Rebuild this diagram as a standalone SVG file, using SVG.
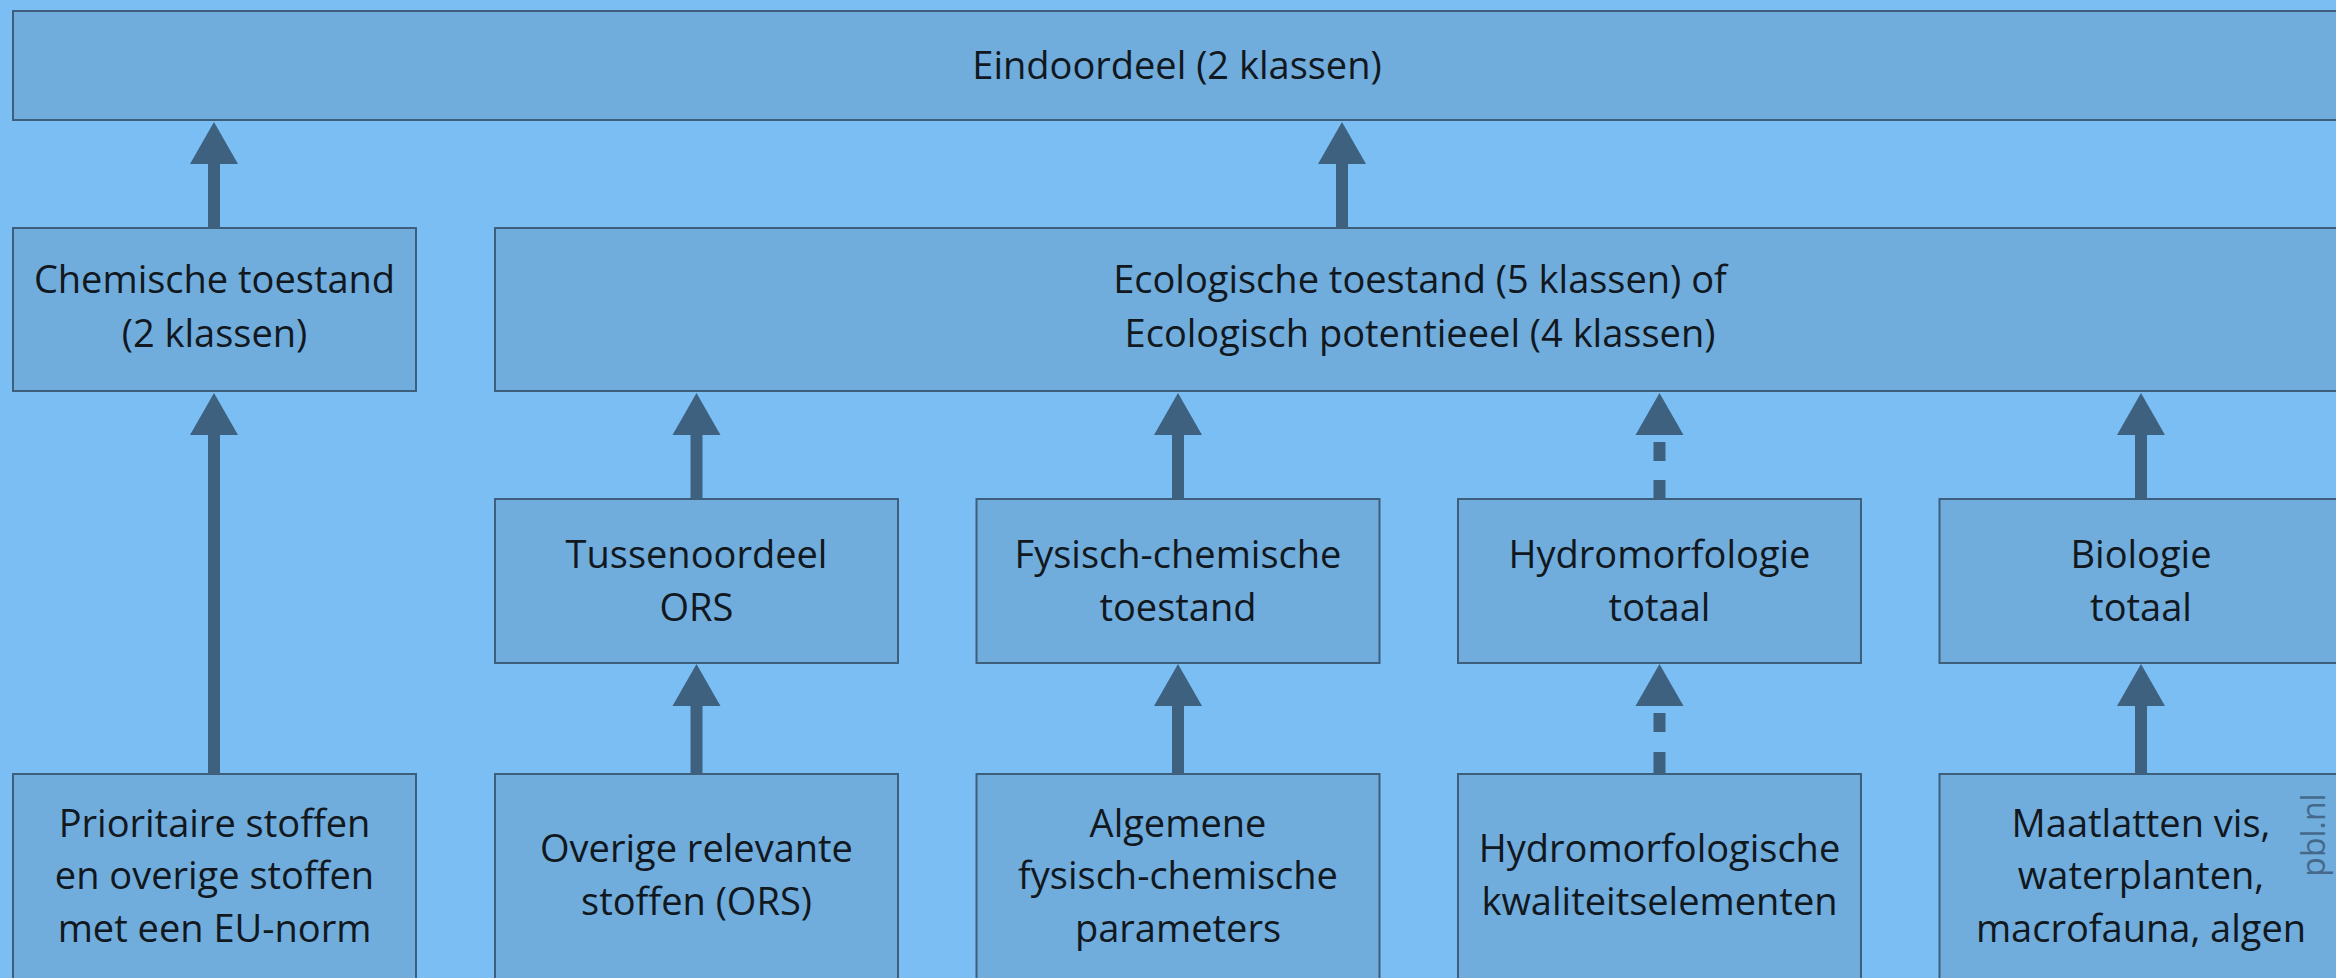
<svg xmlns="http://www.w3.org/2000/svg" width="2336" height="978" viewBox="0 0 2336 978">
<style>
.bg{fill:#7bbef4}
.box{fill:#70acdc;stroke:#3d5f7c;stroke-width:2}
.t{font-family:"Open Sans","Liberation Sans",sans-serif;font-size:38px;fill:#111820;text-anchor:middle}
.sh{fill:#3e6180}
.wm{font-family:"Open Sans","Liberation Sans",sans-serif;font-size:32px;fill:#44698a;text-anchor:middle}
</style>
<defs>
<path id="head" d="M0 0 L24 42 L-24 42 Z"/>
</defs>
<rect class="bg" x="0" y="0" width="2336" height="978"/>

<g id="n-eindoordeel">
<rect class="box" x="13" y="11" width="2340" height="109"/>
<text class="t" x="1177" y="79">Eindoordeel (2 klassen)</text>
</g>
<g id="n-chemisch">
<rect class="box" x="13" y="228" width="403" height="163"/>
<text class="t" x="214.5" y="293">Chemische toestand</text>
<text class="t" x="214.5" y="347">(2 klassen)</text>
</g>
<g id="n-ecologisch">
<rect class="box" x="495" y="228" width="1860" height="163"/>
<text class="t" x="1420" y="293">Ecologische toestand (5 klassen) of</text>
<text class="t" x="1420" y="347">Ecologisch potentieeel (4 klassen)</text>
</g>
<g id="n-tussenoordeel">
<rect class="box" x="495" y="499" width="403" height="164"/>
<text class="t" x="696.5" y="568">Tussenoordeel</text>
<text class="t" x="696.5" y="621">ORS</text>
</g>
<g id="n-fysisch">
<rect class="box" x="976.5" y="499" width="403" height="164"/>
<text class="t" x="1178" y="568">Fysisch-chemische</text>
<text class="t" x="1178" y="621">toestand</text>
</g>
<g id="n-hydro">
<rect class="box" x="1458" y="499" width="403" height="164"/>
<text class="t" x="1659.5" y="568">Hydromorfologie</text>
<text class="t" x="1659.5" y="621">totaal</text>
</g>
<g id="n-biologie">
<rect class="box" x="1939.5" y="499" width="403" height="164"/>
<text class="t" x="2141" y="568">Biologie</text>
<text class="t" x="2141" y="621">totaal</text>
</g>
<g id="n-prioritair">
<rect class="box" x="13" y="774" width="403" height="240"/>
<text class="t" x="214.5" y="837">Prioritaire stoffen</text>
<text class="t" x="214.5" y="889">en overige stoffen</text>
<text class="t" x="214.5" y="942">met een EU-norm</text>
</g>
<g id="n-ors">
<rect class="box" x="495" y="774" width="403" height="240"/>
<text class="t" x="696.5" y="862">Overige relevante</text>
<text class="t" x="696.5" y="915">stoffen (ORS)</text>
</g>
<g id="n-algemeen">
<rect class="box" x="976.5" y="774" width="403" height="240"/>
<text class="t" x="1178" y="837">Algemene</text>
<text class="t" x="1178" y="889">fysisch-chemische</text>
<text class="t" x="1178" y="942">parameters</text>
</g>
<g id="n-hydroelementen">
<rect class="box" x="1458" y="774" width="403" height="240"/>
<text class="t" x="1659.5" y="862">Hydromorfologische</text>
<text class="t" x="1659.5" y="915">kwaliteitselementen</text>
</g>
<g id="n-maatlatten">
<rect class="box" x="1939.5" y="774" width="403" height="240"/>
<text class="t" x="2141" y="837">Maatlatten vis,</text>
<text class="t" x="2141" y="889">waterplanten,</text>
<text class="t" x="2141" y="942">macrofauna, algen</text>
<text class="wm" transform="translate(2325 835) rotate(-90)">pbl.nl</text>
</g>

<g id="connectors" class="sh">
<!-- to Eindoordeel -->
<use href="#head" x="214" y="122"/><rect x="208" y="163" width="12" height="65"/>
<use href="#head" x="1342" y="122"/><rect x="1336" y="163" width="12" height="65"/>
<!-- to Chemische toestand -->
<use href="#head" x="214" y="393"/><rect x="208" y="434" width="12" height="340"/>
<!-- to Ecologische toestand -->
<use href="#head" x="696.5" y="393"/><rect x="690.5" y="434" width="12" height="65"/>
<use href="#head" x="1178" y="393"/><rect x="1172" y="434" width="12" height="65"/>
<use href="#head" x="1659.5" y="393"/><rect x="1653.5" y="442" width="12" height="19"/><rect x="1653.5" y="480" width="12" height="19"/>
<use href="#head" x="2141" y="393"/><rect x="2135" y="434" width="12" height="65"/>
<!-- row 3 to row 2 -->
<use href="#head" x="696.5" y="664"/><rect x="690.5" y="705" width="12" height="69"/>
<use href="#head" x="1178" y="664"/><rect x="1172" y="705" width="12" height="69"/>
<use href="#head" x="1659.5" y="664"/><rect x="1653.5" y="713" width="12" height="19"/><rect x="1653.5" y="752" width="12" height="22"/>
<use href="#head" x="2141" y="664"/><rect x="2135" y="705" width="12" height="69"/>
</g>
</svg>
